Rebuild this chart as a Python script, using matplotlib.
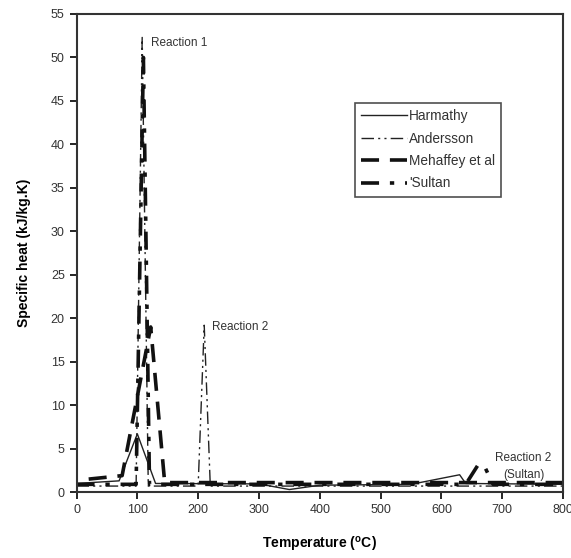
import matplotlib
matplotlib.use("Agg")
from matplotlib import pyplot as plt

plt.rcParams['font.family'] = ['Liberation Sans', 'DejaVu Sans']

# specific heat curves (kJ/kg.K) against temperature (C)
harmathy_t = [0, 70, 100, 130, 300, 350, 400, 550, 630, 640, 800]
harmathy_cp = [1.0, 1.3, 6.7, 1.0, 0.95, 0.3, 0.8, 0.9, 2.0, 1.0, 0.9]

andersson_t = [0, 98, 108, 118, 200, 210, 220, 800]
andersson_cp = [0.7, 0.7, 52.3, 0.7, 0.7, 19.2, 0.7, 0.7]

mehaffey_t = [20, 75, 122, 145, 800]
mehaffey_cp = [1.5, 1.9, 19.0, 1.1, 1.1]

sultan_t = [0, 98, 110, 120, 640, 660, 670, 685, 800]
sultan_cp = [0.9, 0.9, 50.0, 0.9, 0.9, 3.1, 3.1, 0.9, 0.9]

fig = plt.figure(figsize=(5.71, 5.58), dpi=100)
ax = fig.add_axes([0.134, 0.118, 0.852, 0.857])

ax.plot(harmathy_t, harmathy_cp, color='#222222', lw=1.0, label='Harmathy')
ax.plot(andersson_t, andersson_cp, color='#222222', lw=1.0,
        dashes=(9, 3, 1.5, 3, 1.5, 3), label='Andersson')
ax.plot(mehaffey_t, mehaffey_cp, color='#111111', lw=2.6,
        dashes=(5, 3), label='Mehaffey et al')
ax.plot(sultan_t, sultan_cp, color='#111111', lw=2.6,
        dashes=(5, 3, 1.2, 3), label="'Sultan")

ax.set_xlim(0, 800)
ax.set_ylim(0, 55)
ax.set_xticks(range(0, 801, 100))
ax.set_yticks(range(0, 56, 5))
ax.tick_params(direction='out', length=5, width=1.2, labelsize=9,
               labelcolor='#333333')
for s in ax.spines.values():
    s.set_linewidth(1.5)
    s.set_color('#333333')

ax.set_xlabel(r'Temperature ($^{\mathregular{o}}$C)', fontsize=10,
              fontweight='bold', labelpad=14)
ax.set_ylabel('Specific heat (kJ/kg.K)', fontsize=10, fontweight='bold',
              labelpad=14)

ax.text(123, 51.7, 'Reaction 1', fontsize=8.5, color='#333333', va='center')
ax.text(223, 19.0, 'Reaction 2', fontsize=8.5, color='#333333', va='center')
ax.text(735, 3.9, 'Reaction 2', fontsize=8.5, color='#333333',
        ha='center', va='center')
ax.text(735, 1.95, '(Sultan)', fontsize=8.5, color='#333333',
        ha='center', va='center')

leg = ax.legend(loc='upper left', bbox_to_anchor=(355 / 571, 1 - 103 / 558),
                bbox_transform=fig.transFigure, fontsize=9.8, frameon=True,
                fancybox=False, handlelength=3.4, handletextpad=0.1,
                labelspacing=0.62, borderpad=0.45, borderaxespad=0)
leg.get_frame().set_edgecolor('#222222')
leg.get_frame().set_linewidth(1.2)
for t in leg.get_texts():
    t.set_color('#333333')

fig.savefig('out.png', dpi=100)
